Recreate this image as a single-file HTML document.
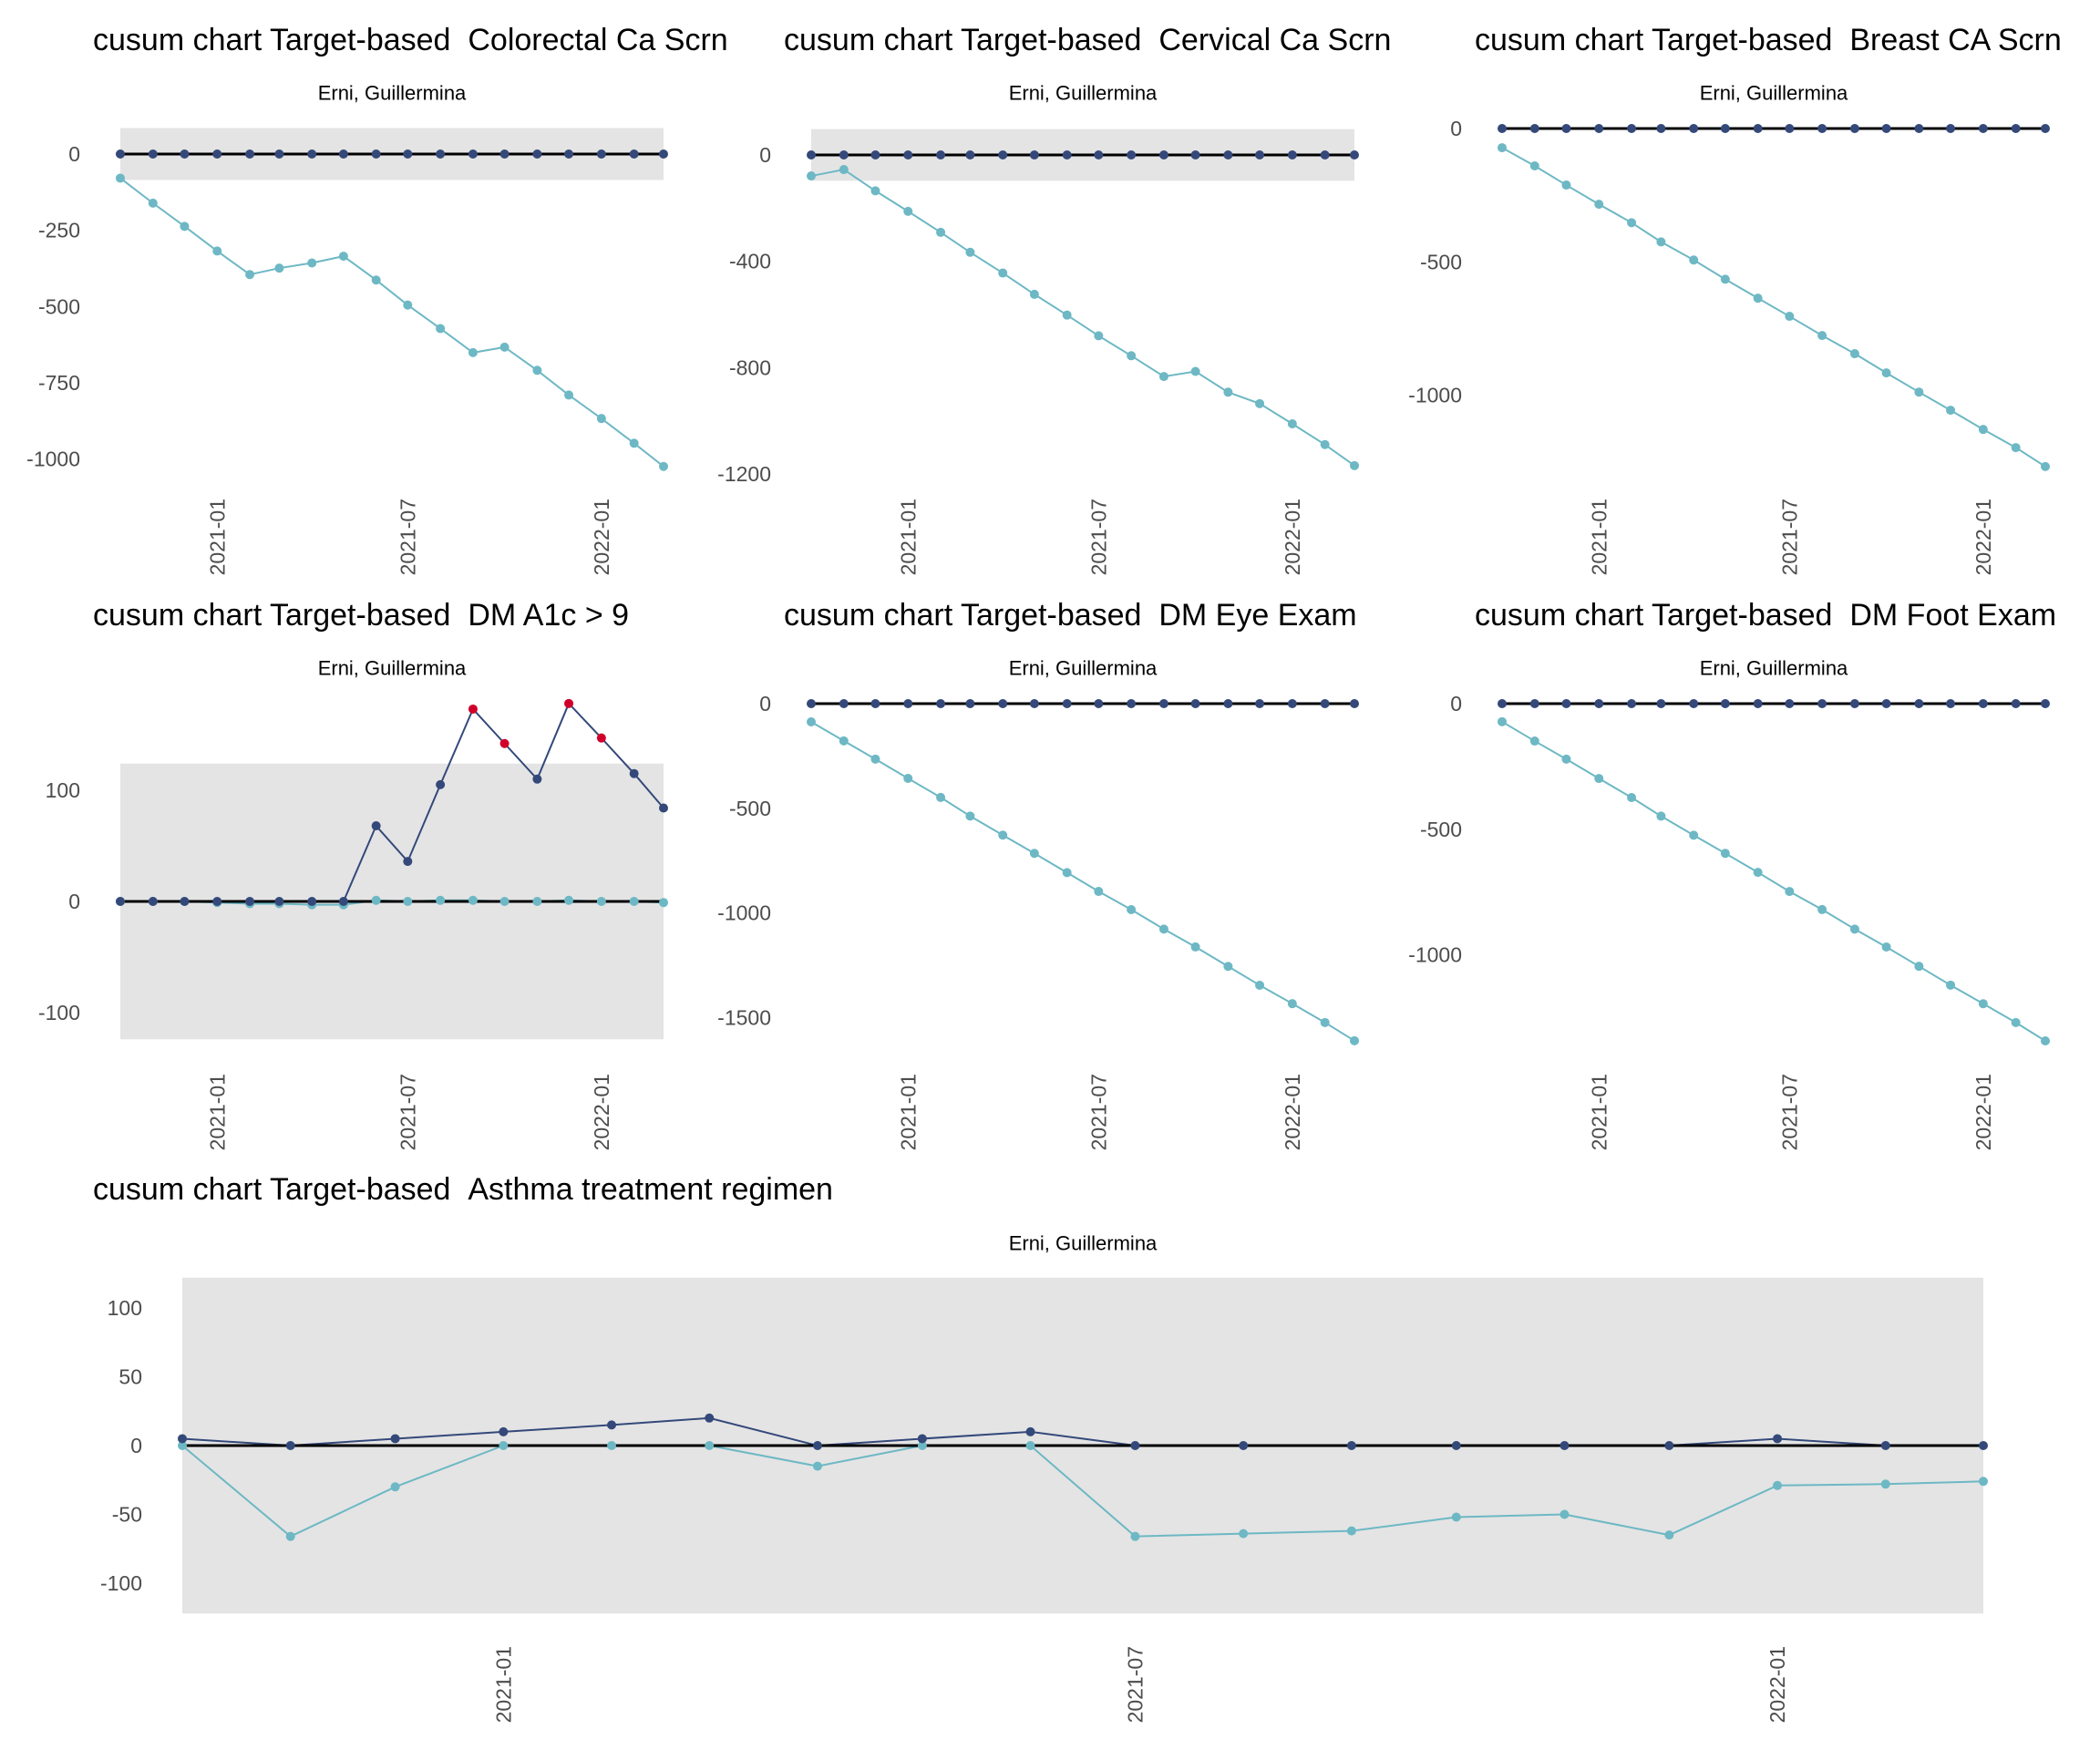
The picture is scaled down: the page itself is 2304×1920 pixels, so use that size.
<!DOCTYPE html>
<html><head><meta charset="utf-8"><style>
html,body{margin:0;padding:0;background:#fff;}
svg{display:block;font-family:"Liberation Sans",Arial,sans-serif;}
</style></head><body>
<svg id="chart" width="2304" height="1920" viewBox="0 0 2304 1920" xmlns="http://www.w3.org/2000/svg"></svg>
<script>
const months = ["2020-10-01","2020-11-01","2020-12-01","2021-01-01","2021-02-01","2021-03-01","2021-04-01","2021-05-01","2021-06-01","2021-07-01","2021-08-01","2021-09-01","2021-10-01","2021-11-01","2021-12-01","2022-01-01","2022-02-01","2022-03-01"];
const tickDates = ["2021-01-01","2021-07-01","2022-01-01"];
const tickDateLabels = ["2021-01","2021-07","2022-01"];
const zeros18 = [0,0,0,0,0,0,0,0,0,0,0,0,0,0,0,0,0,0];

const colorectalUpper = zeros18;
const colorectalLower = [-79,-161,-237,-318,-395,-374,-357,-335,-413,-495,-572,-651,-633,-709,-790,-867,-948,-1024];
const colorectalTicks = [0,-250,-500,-750,-1000];

const cervicalUpper = zeros18;
const cervicalLower = [-79,-55,-135,-212,-291,-366,-444,-524,-602,-680,-755,-833,-814,-892,-935,-1011,-1089,-1168];
const cervicalTicks = [0,-400,-800,-1200];

const breastUpper = zeros18;
const breastLower = [-72,-140,-212,-284,-353,-425,-493,-565,-636,-704,-776,-844,-916,-988,-1056,-1128,-1196,-1267];
const breastTicks = [0,-500,-1000];

const a1cUpper = [0,0,0,0,0,0,0,0,68,36,105,173,142,110,178,147,115,84];
const a1cLower = [0,0,0,-1,-2,-2,-3,-3,1,0,1,1,0,0,1,0,0,-1];
const a1cTicks = [100,0,-100];

const eyeUpper = zeros18;
const eyeLower = [-87,-178,-265,-357,-448,-537,-628,-715,-807,-897,-984,-1077,-1162,-1255,-1345,-1433,-1523,-1610];
const eyeTicks = [0,-500,-1000,-1500];

const footUpper = zeros18;
const footLower = [-72,-149,-221,-298,-374,-448,-524,-596,-672,-748,-820,-898,-969,-1046,-1121,-1195,-1270,-1343];
const footTicks = [0,-500,-1000];

const asthmaUpper = [5,0,5,10,15,20,0,5,10,0,0,0,0,0,0,5,0,0];
const asthmaLower = [0,-66,-30,0,0,0,-15,0,0,-66,-64,-62,-52,-50,-65,-29,-28,-26];
const asthmaTicks = [100,50,0,-50,-100];

const svg = document.getElementById('chart');
const NS = 'http://www.w3.org/2000/svg';
function mk(tag, attrs, parent){
  const e = document.createElementNS(NS, tag);
  for (const k in attrs) e.setAttribute(k, attrs[k]);
  (parent||svg).appendChild(e);
  return e;
}
const NAVY = '#34497a', TEAL = '#6db8c4', RED = '#d0002a';

function panel(cfg){
  const g = mk('g', {});
  
  
  const t0 = Date.parse(months[0]), t1 = Date.parse(months[months.length-1]);
  const xs = d => cfg.x0 + (Date.parse(d) - t0) / (t1 - t0) * (cfg.x1 - cfg.x0);
  const ys = v => cfg.zeroY - v * cfg.k;

  const title = mk('text', {x: cfg.titleX, y: cfg.titleY, 'font-size': 34, fill: '#000'}, g);
  title.textContent = 'cusum chart Target-based\u00a0\u00a0' + cfg.title;
  
  

  const sub = mk('text', {x: cfg.subX, y: cfg.subY, 'font-size': 22, fill: '#000', 'text-anchor': 'middle', 'dominant-baseline': 'central'}, g);
  sub.textContent = 'Erni, Guillermina';
  
  

  if (cfg.band != null){
    const b = mk('rect', {x: cfg.x0, y: ys(cfg.band), width: cfg.x1 - cfg.x0, height: ys(-cfg.band) - ys(cfg.band), fill: '#e4e4e4'}, g);
    
    
  }

  cfg.ticks.forEach(v => {
    const t = mk('text', {x: cfg.x0 - 44, y: ys(v), 'font-size': 23, fill: '#4d4d4d', 'text-anchor': 'end', 'dominant-baseline': 'central'}, g);
    t.textContent = String(v);
    
    
  });

  tickDates.forEach((d, i) => {
    const x = xs(d);
    const t = mk('text', {x: 0, y: 0, 'font-size': 23, fill: '#4d4d4d', 'text-anchor': 'end', 'dominant-baseline': 'central', transform: 'translate(' + x + ',' + cfg.labelTop + ') rotate(-90)'}, g);
    t.textContent = tickDateLabels[i];
    
    
  });

  const lowPts = months.map((d, i) => xs(d) + ',' + ys(cfg.lower[i])).join(' ');
  const lowLine = mk('polyline', {points: lowPts, fill: 'none', stroke: TEAL, 'stroke-width': 2}, g);
  
  

  const upPts = months.map((d, i) => xs(d) + ',' + ys(cfg.upper[i])).join(' ');
  const upLine = mk('polyline', {points: upPts, fill: 'none', stroke: NAVY, 'stroke-width': 2}, g);
  
  

  const zl = mk('line', {x1: cfg.x0, x2: cfg.x1, y1: ys(0), y2: ys(0), stroke: '#000', 'stroke-width': 3}, g);
  
  

  months.forEach((d, i) => {
    const c = mk('circle', {cx: xs(d), cy: ys(cfg.lower[i]), r: 5, fill: TEAL}, g);
    
    
  });
  months.forEach((d, i) => {
    const v = cfg.upper[i];
    const out = cfg.band != null && v > cfg.band;
    const c = mk('circle', {cx: xs(d), cy: ys(v), r: 5, fill: out ? RED : NAVY}, g);
    
    
  });
}

const R2 = 631;
panel({name:'colorectal', title:'Colorectal Ca Scrn', x0:132, x1:728, zeroY:169, k:0.3347, band:85, ticks:colorectalTicks, upper:colorectalUpper, lower:colorectalLower, titleX:102, titleY:55, subX:430, subY:102, labelTop:547});
panel({name:'cervical', title:'Cervical Ca Scrn', x0:890, x1:1486, zeroY:170, k:0.2918, band:97, ticks:cervicalTicks, upper:cervicalUpper, lower:cervicalLower, titleX:860, titleY:55, subX:1188, subY:102, labelTop:547});
panel({name:'breast', title:'Breast CA Scrn', x0:1648, x1:2244, zeroY:141, k:0.2927, band:null, ticks:breastTicks, upper:breastUpper, lower:breastLower, titleX:1618, titleY:55, subX:1946, subY:102, labelTop:547});
panel({name:'a1c', title:'DM A1c > 9', x0:132, x1:728, zeroY:989, k:1.22, band:124, ticks:a1cTicks, upper:a1cUpper, lower:a1cLower, titleX:102, titleY:55+R2, subX:430, subY:102+R2, labelTop:547+R2});
panel({name:'eye-exam', title:'DM Eye Exam', x0:890, x1:1486, zeroY:772, k:0.2297, band:null, ticks:eyeTicks, upper:eyeUpper, lower:eyeLower, titleX:860, titleY:55+R2, subX:1188, subY:102+R2, labelTop:547+R2});
panel({name:'foot-exam', title:'DM Foot Exam', x0:1648, x1:2244, zeroY:772, k:0.2755, band:null, ticks:footTicks, upper:footUpper, lower:footLower, titleX:1618, titleY:55+R2, subX:1946, subY:102+R2, labelTop:547+R2});
panel({name:'asthma', title:'Asthma treatment regimen', x0:200, x1:2176, zeroY:1586, k:1.51, band:122, ticks:asthmaTicks, upper:asthmaUpper, lower:asthmaLower, titleX:102, titleY:1316, subX:1188, subY:1364, labelTop:1806});
</script>
</body></html>
